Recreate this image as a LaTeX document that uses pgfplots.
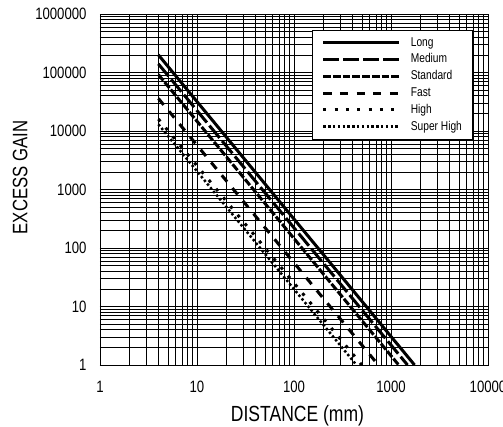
\documentclass[border=0pt]{standalone}
\usepackage{fontspec}
\setmainfont[FakeStretch=0.8]{Liberation Sans}
\usepackage{pgfplots}
\pgfplotsset{compat=1.18}

\begin{document}
\begin{tikzpicture}
\useasboundingbox (-100bp,-62bp) rectangle (403bp,365bp);
\begin{axis}[
  scale only axis, width=388bp, height=351bp,
  xmode=log, ymode=log,
  xmin=1, xmax=10000, ymin=1, ymax=1000000,
  xtick={1,10,100,1000,10000}, xticklabels={1,10,100,1000,10000},
  ytick={1,10,100,1000,10000,100000,1000000},
  yticklabels={1,10,100,1000,10000,100000,1000000},
  grid=both,
  major grid style={black, line width=0.7bp},
  minor grid style={black, line width=0.6bp},
  tick style={draw=none},
  axis line style={black, line width=0.8bp},
  tick label style={font=\fontsize{16.5}{18}\selectfont},
  xticklabel style={anchor=base, yshift=-27bp},
  yticklabel style={anchor=east, xshift=-10bp},
  xlabel={DISTANCE (mm)},
  ylabel={EXCESS GAIN},
  xlabel style={at={(axis description cs:0.509,-0.162)}, anchor=base, font=\fontsize{22}{24}\selectfont},
  ylabel style={at={(axis description cs:-0.206,0.534)}, anchor=center, font=\fontsize{21}{24}\selectfont},
  legend cell align=left,
  legend image code/.code={\draw[#1] (0bp,0bp) -- (76bp,0bp);},
  legend style={at={(axis description cs:0.959,0.954)}, anchor=north east,
    draw=black, fill=white, font=\fontsize{12.8}{14}\selectfont,
    inner xsep=10bp, inner ysep=4bp, column sep=10bp, row sep=0bp,
    nodes={inner xsep=0bp, inner ysep=2bp, text height=9.8bp, text depth=3bp}},
]
\addplot[black, line width=3bp] coordinates {(4,200000) (1750,1)};
\addlegendentry{Long}
\addplot[black, line width=3bp, dash pattern=on 16bp off 4bp] coordinates {(4,140000) (1480,1)};
\addlegendentry{Medium}
\addplot[black, line width=3bp, dash pattern=on 7.7bp off 2bp] coordinates {(4,92000) (1200,1)};
\addlegendentry{Standard}
\addplot[black, line width=3bp, dash pattern=on 8.3bp off 8.3bp] coordinates {(4,36000) (740,1)};
\addlegendentry{Fast}
\addplot[black, line width=3bp, dash pattern=on 3bp off 8.3bp] coordinates {(4,16000) (500,1)};
\addlegendentry{High}
\addplot[black, line width=2.5bp, dash pattern=on 2.4bp off 2.4bp] coordinates {(4,13000) (440,1)};
\addlegendentry{Super High}
\end{axis}
\end{tikzpicture}
\end{document}
